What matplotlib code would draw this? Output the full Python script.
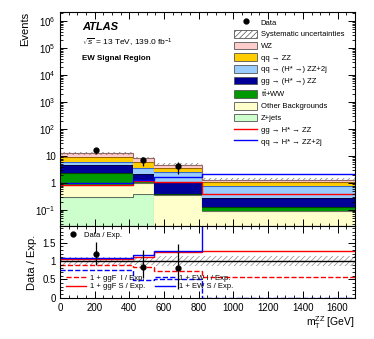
import numpy as np
import matplotlib
matplotlib.use("Agg")
import matplotlib.pyplot as plt
from matplotlib.patches import Patch
from matplotlib.lines import Line2D
from matplotlib.ticker import MultipleLocator, FixedLocator, LogLocator, NullFormatter

plt.rcParams['font.family'] = ['Liberation Sans', 'DejaVu Sans']
plt.rcParams['mathtext.fontset'] = 'custom'
plt.rcParams['mathtext.rm'] = 'Liberation Sans'
plt.rcParams['mathtext.it'] = 'Liberation Sans:italic'
plt.rcParams['mathtext.bf'] = 'Liberation Sans:bold'
plt.rcParams['hatch.linewidth'] = 0.5

########################################################################################################################
# Data
########################################################################################################################

edges = [0, 420, 540, 820, 1700]
centers = [210, 480, 680]

# stack components, bottom to top
zjets = [0.30, 0.40, 0.0, 0.0]
other = [0.55, 0.60, 0.35, 0.087]
ttww = [1.45, 0.26, 0.03, 0.04]
gg_zz = [2.40, 0.94, 0.72, 0.15]
qq_zz2j = [1.50, 1.50, 1.40, 0.48]
qq_zz = [3.30, 2.20, 1.20, 0.34]
wz = [3.00, 2.60, 1.10, 0.20]
syst_rel = [0.12, 0.12, 0.13, 0.13]

sig_gg = [0.85, 1.15, 1.09, 0.38]
sig_ew = [1.00, 1.30, 1.70, 2.20]

data_y = [16.0, 6.8, 4.2]
data_err = [4.0, 2.6, 2.0]

# ratio panel
ratio_y = [1.185, 0.84, 0.80]
ratio_up = [0.33, 0.47, 0.65]
ratio_dn = [0.30, 0.30, 0.57]
ggf_s = [1.045, 1.12, 1.24, 1.28]
ew_s = [1.07, 1.17, 1.28, 2.70]
ggf_i = [0.89, 0.84, 0.72, 0.56]
ew_i = [0.76, 0.47, 0.51, 0.0]

stack = [
    (zjets, "#ccffcc", "#607060", "Z+jets"),
    (other, "#ffffcc", "#707060", "Other Backgrounds"),
    (ttww, "#009900", "#004400", r"t$\bar{\rm t}$+WW"),
    (gg_zz, "#000099", "#000044", r"gg → (H* →) ZZ"),
    (qq_zz2j, "#99ccff", "#3366cc", r"qq → (H* →) ZZ+2j"),
    (qq_zz, "#ffcc00", "#996600", r"qq → ZZ"),
    (wz, "#ffcccc", "#996666", "WZ"),
]

########################################################################################################################
# Plot
########################################################################################################################

fig = plt.figure(figsize=(3.74, 3.39), dpi=100)
ax1 = fig.add_axes([0.160, 0.333, 0.789, 0.632])
ax2 = fig.add_axes([0.160, 0.122, 0.789, 0.211], sharex=ax1)

base = np.full(4, 1e-4)
for vals, fc, ec, lab in stack:
    top = base + np.array(vals)
    ax1.stairs(top, edges, baseline=base, fill=True, facecolor=fc, edgecolor='none')
    ax1.stairs(top, edges, baseline=None, color=ec, linewidth=0.8)
    base = top
total = base
ax1.stairs(total * (1 + np.array(syst_rel)), edges, baseline=total * (1 - np.array(syst_rel)),
           fill=True, facecolor='none', edgecolor='#777777', hatch='//////', linewidth=0)
ax1.stairs(sig_gg, edges, baseline=None, color='#ff0000', linewidth=1.0)
ax1.stairs(sig_ew, edges, baseline=None, color='#0000ff', linewidth=1.0)
ax1.errorbar(centers, data_y, yerr=data_err, fmt='o', color='black', markersize=3.5, elinewidth=0.9, capsize=0)

ax1.set_yscale('log')
ax1.set_ylim(0.025, 2.2e6)
ax1.set_xlim(0, 1700)


def log_fmt(v, pos):
    if abs(v - 1) < 1e-9:
        return "1"
    if abs(v - 10) < 1e-9:
        return "10"
    return r"$10^{%d}$" % int(round(np.log10(v)))


ax1.yaxis.set_major_locator(FixedLocator([0.1, 1, 10, 1e2, 1e3, 1e4, 1e5, 1e6]))
ax1.yaxis.set_major_formatter(plt.FuncFormatter(log_fmt))
ax1.yaxis.set_minor_locator(LogLocator(base=10, subs=np.arange(2, 10), numticks=20))
ax1.yaxis.set_minor_formatter(NullFormatter())
ax1.set_ylabel("Events", fontsize=8, loc='top', labelpad=4)
plt.setp(ax1.get_xticklabels(), visible=False)

leg_handles = [
    Line2D([], [], marker='o', color='black', linestyle='none', markersize=3.5),
    Patch(facecolor='white', edgecolor='#555555', hatch='//////', linewidth=0.6),
    Patch(facecolor="#ffcccc", edgecolor='#555555', linewidth=0.6),
    Patch(facecolor="#ffcc00", edgecolor='#555555', linewidth=0.6),
    Patch(facecolor="#99ccff", edgecolor='#555555', linewidth=0.6),
    Patch(facecolor="#000099", edgecolor='#555555', linewidth=0.6),
    Patch(facecolor="#009900", edgecolor='#555555', linewidth=0.6),
    Patch(facecolor="#ffffcc", edgecolor='#555555', linewidth=0.6),
    Patch(facecolor="#ccffcc", edgecolor='#555555', linewidth=0.6),
    Line2D([], [], color='#ff0000', linewidth=1.0),
    Line2D([], [], color='#0000ff', linewidth=1.0),
]
leg_labels = ["Data", "Systematic uncertainties", "WZ", "qq → ZZ", "qq → (H* →) ZZ+2j",
              "gg → (H* →) ZZ", r"t$\bar{\rm t}$+WW", "Other Backgrounds", "Z+jets",
              "gg → H* → ZZ", "qq → H* → ZZ+2j"]
ax1.legend(leg_handles, leg_labels, loc='upper left', bbox_to_anchor=(0.58, 0.985), fontsize=5.5,
           frameon=False, handlelength=3.0, handleheight=1.2, labelspacing=0.42, handletextpad=0.5,
           borderaxespad=0)

ax1.text(0.075, 0.93, "ATLAS", transform=ax1.transAxes, fontsize=8, fontweight='bold',
         fontstyle='italic', va='center')
ax1.text(0.075, 0.855, r"$\sqrt{s}$ = 13 TeV, 139.0 fb$^{-1}$", transform=ax1.transAxes,
         fontsize=6, va='center')
ax1.text(0.075, 0.78, "EW Signal Region", transform=ax1.transAxes, fontsize=5.8,
         fontweight='bold', va='center')

# ratio panel
band_up = 1 + np.array(syst_rel)
band_dn = 1 - np.array(syst_rel)
ax2.stairs(band_up, edges, baseline=band_dn, fill=True, facecolor='none', edgecolor='#888888',
           hatch='//////', linewidth=0)
ax2.axhline(1.0, color='black', linewidth=1.0)
ax2.stairs(ggf_i, edges, baseline=None, color='#ff0000', linewidth=1.0, linestyle='--')
ax2.stairs(ew_i, edges, baseline=None, color='#0000ff', linewidth=1.0, linestyle='--')
ax2.stairs(ggf_s, edges, baseline=None, color='#ff0000', linewidth=1.0)
ax2.stairs(ew_s, edges, baseline=None, color='#0000ff', linewidth=1.0)
ax2.errorbar(centers, ratio_y, yerr=[ratio_dn, ratio_up], fmt='o', color='black',
             markersize=3.5, elinewidth=0.9, capsize=0)

ax2.set_ylim(0, 1.95)
ax2.set_xlim(0, 1700)
ax2.yaxis.set_major_locator(FixedLocator([0, 0.5, 1, 1.5]))
ax2.yaxis.set_major_formatter(plt.FuncFormatter(lambda v, p: "%g" % v))
ax2.yaxis.set_minor_locator(MultipleLocator(0.1))
ax2.set_ylabel("Data / Exp.", fontsize=8, labelpad=4)
ax2.set_xlabel(r"m$_{\rm T}^{\rm ZZ}$ [GeV]", fontsize=7.5, loc='right', labelpad=1)

leg_a = ax2.legend([Line2D([], [], marker='o', color='black', linestyle='none', markersize=3.5)],
                   ["Data / Exp."], loc='upper left', bbox_to_anchor=(0.02, 0.97), fontsize=5.5,
                   frameon=False, handlelength=1.2, handletextpad=0.8, borderaxespad=0)
ax2.add_artist(leg_a)
r_handles = [
    Line2D([], [], color='#ff0000', linewidth=1.0, linestyle='--'),
    Line2D([], [], color='#ff0000', linewidth=1.0),
    Line2D([], [], color='#0000ff', linewidth=1.0, linestyle='--'),
    Line2D([], [], color='#0000ff', linewidth=1.0),
]
r_labels = ["1 + ggF  I / Exp.", "1 + ggF S / Exp.", "1 + EW I / Exp.", "1 + EW S / Exp."]
ax2.legend(r_handles, r_labels, ncol=2, loc='lower left', bbox_to_anchor=(0.01, 0.06), fontsize=5.5,
           frameon=False, handlelength=2.6, handletextpad=0.5, columnspacing=1.4, labelspacing=0.15,
           borderaxespad=0)

ax2.xaxis.set_major_locator(MultipleLocator(200))
ax2.xaxis.set_minor_locator(MultipleLocator(50))

for ax in (ax1, ax2):
    ax.tick_params(which='both', direction='in', top=True, right=True, labelsize=7, pad=3)
    ax.tick_params(which='major', length=5, width=0.7)
    ax.tick_params(which='minor', length=2.5, width=0.6)
    for s in ax.spines.values():
        s.set_linewidth(0.8)
ax2.tick_params(axis='x', which='major', pad=4)

fig.savefig("out.png", dpi=100)
